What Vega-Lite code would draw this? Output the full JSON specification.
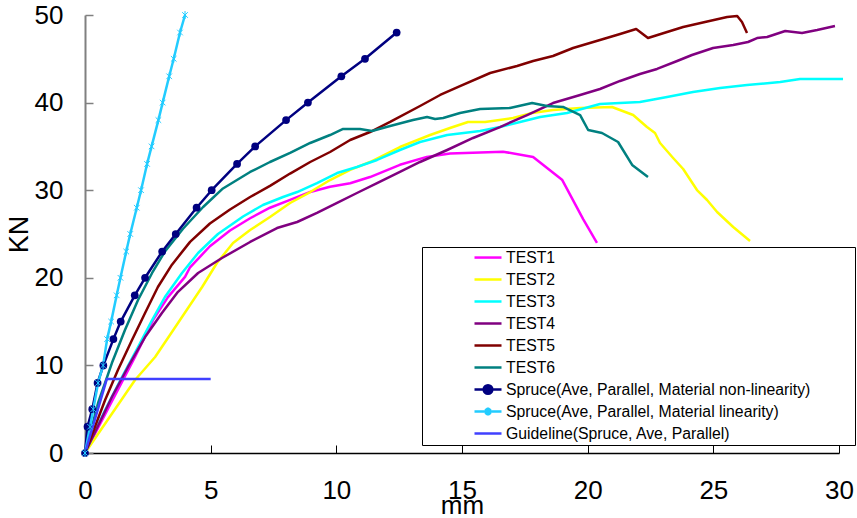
{
  "$schema": "https://vega.github.io/schema/vega-lite/v6.json",
  "autosize": "none",
  "padding": {"left": 85, "top": 15, "right": 18, "bottom": 65},
  "width": 754,
  "height": 438,
  "background": "white",
  "config": {
    "view": {"stroke": null},
    "font": "Liberation Sans",
    "axis": {"grid": false, "labelFlush": false, "labelOverlap": false, "labelFont": "Liberation Sans", "titleFont": "Liberation Sans", "labelColor": "black", "titleColor": "black", "titleFontWeight": "normal"}
  },
  "datasets": {
    "curves": [
      {"series": "TEST1", "x": 0, "y": 0},
      {"series": "TEST1", "x": 1.99, "y": 10.96},
      {"series": "TEST1", "x": 2.71, "y": 15.2},
      {"series": "TEST1", "x": 3.3, "y": 17.8},
      {"series": "TEST1", "x": 3.98, "y": 20.1},
      {"series": "TEST1", "x": 4.18, "y": 21.2},
      {"series": "TEST1", "x": 4.97, "y": 23.6},
      {"series": "TEST1", "x": 5.77, "y": 25.4},
      {"series": "TEST1", "x": 6.57, "y": 26.8},
      {"series": "TEST1", "x": 7.36, "y": 28.0},
      {"series": "TEST1", "x": 8.16, "y": 28.9},
      {"series": "TEST1", "x": 8.96, "y": 29.8},
      {"series": "TEST1", "x": 9.75, "y": 30.4},
      {"series": "TEST1", "x": 10.55, "y": 30.8},
      {"series": "TEST1", "x": 11.34, "y": 31.5},
      {"series": "TEST1", "x": 12.53, "y": 32.9},
      {"series": "TEST1", "x": 13.6, "y": 33.8},
      {"series": "TEST1", "x": 14.52, "y": 34.2},
      {"series": "TEST1", "x": 16.63, "y": 34.4},
      {"series": "TEST1", "x": 17.83, "y": 33.8},
      {"series": "TEST1", "x": 18.98, "y": 31.2},
      {"series": "TEST1", "x": 19.82, "y": 26.7},
      {"series": "TEST1", "x": 20.37, "y": 24.0},

      {"series": "TEST2", "x": 0, "y": 0},
      {"series": "TEST2", "x": 1.99, "y": 8.33},
      {"series": "TEST2", "x": 2.79, "y": 10.96},
      {"series": "TEST2", "x": 3.7, "y": 14.84},
      {"series": "TEST2", "x": 4.66, "y": 18.95},
      {"series": "TEST2", "x": 5.25, "y": 21.69},
      {"series": "TEST2", "x": 5.89, "y": 23.97},
      {"series": "TEST2", "x": 6.57, "y": 25.46},
      {"series": "TEST2", "x": 7.36, "y": 26.94},
      {"series": "TEST2", "x": 8.16, "y": 28.54},
      {"series": "TEST2", "x": 8.96, "y": 29.79},
      {"series": "TEST2", "x": 9.75, "y": 31.16},
      {"series": "TEST2", "x": 10.55, "y": 32.31},
      {"series": "TEST2", "x": 11.34, "y": 33.22},
      {"series": "TEST2", "x": 12.53, "y": 34.93},
      {"series": "TEST2", "x": 13.73, "y": 36.3},
      {"series": "TEST2", "x": 14.52, "y": 37.1},
      {"series": "TEST2", "x": 15.24, "y": 37.79},
      {"series": "TEST2", "x": 15.92, "y": 37.79},
      {"series": "TEST2", "x": 17.03, "y": 38.24},
      {"series": "TEST2", "x": 17.79, "y": 38.81},
      {"series": "TEST2", "x": 18.62, "y": 39.16},
      {"series": "TEST2", "x": 19.7, "y": 39.38},
      {"series": "TEST2", "x": 20.97, "y": 39.5},
      {"series": "TEST2", "x": 21.81, "y": 38.58},
      {"series": "TEST2", "x": 22.36, "y": 37.21},
      {"series": "TEST2", "x": 22.68, "y": 36.53},
      {"series": "TEST2", "x": 22.88, "y": 35.39},
      {"series": "TEST2", "x": 23.4, "y": 33.68},
      {"series": "TEST2", "x": 23.8, "y": 32.42},
      {"series": "TEST2", "x": 24.35, "y": 30.02},
      {"series": "TEST2", "x": 24.75, "y": 28.88},
      {"series": "TEST2", "x": 25.15, "y": 27.51},
      {"series": "TEST2", "x": 25.79, "y": 25.8},
      {"series": "TEST2", "x": 26.46, "y": 24.2},

      {"series": "TEST3", "x": 0, "y": 0},
      {"series": "TEST3", "x": 0.8, "y": 4.91},
      {"series": "TEST3", "x": 1.47, "y": 8.68},
      {"series": "TEST3", "x": 2.11, "y": 12.1},
      {"series": "TEST3", "x": 2.67, "y": 15.18},
      {"series": "TEST3", "x": 3.18, "y": 17.81},
      {"series": "TEST3", "x": 3.86, "y": 20.55},
      {"series": "TEST3", "x": 4.5, "y": 22.83},
      {"series": "TEST3", "x": 5.29, "y": 25.0},
      {"series": "TEST3", "x": 6.29, "y": 27.0},
      {"series": "TEST3", "x": 7.08, "y": 28.31},
      {"series": "TEST3", "x": 7.88, "y": 29.22},
      {"series": "TEST3", "x": 8.44, "y": 29.79},
      {"series": "TEST3", "x": 9.23, "y": 30.82},
      {"series": "TEST3", "x": 10.03, "y": 31.96},
      {"series": "TEST3", "x": 10.82, "y": 32.65},
      {"series": "TEST3", "x": 11.62, "y": 33.45},
      {"series": "TEST3", "x": 12.53, "y": 34.59},
      {"series": "TEST3", "x": 13.33, "y": 35.5},
      {"series": "TEST3", "x": 14.41, "y": 36.3},
      {"series": "TEST3", "x": 15.72, "y": 36.76},
      {"series": "TEST3", "x": 16.51, "y": 37.21},
      {"series": "TEST3", "x": 17.31, "y": 37.79},
      {"series": "TEST3", "x": 18.11, "y": 38.36},
      {"series": "TEST3", "x": 19.18, "y": 38.81},
      {"series": "TEST3", "x": 20.49, "y": 39.84},
      {"series": "TEST3", "x": 22.08, "y": 40.07},
      {"series": "TEST3", "x": 23.16, "y": 40.64},
      {"series": "TEST3", "x": 24.19, "y": 41.21},
      {"series": "TEST3", "x": 25.27, "y": 41.67},
      {"series": "TEST3", "x": 26.34, "y": 42.01},
      {"series": "TEST3", "x": 27.66, "y": 42.35},
      {"series": "TEST3", "x": 28.45, "y": 42.69},
      {"series": "TEST3", "x": 30.16, "y": 42.69},

      {"series": "TEST4", "x": 0, "y": 0},
      {"series": "TEST4", "x": 1.07, "y": 6.39},
      {"series": "TEST4", "x": 1.71, "y": 9.82},
      {"series": "TEST4", "x": 2.39, "y": 13.24},
      {"series": "TEST4", "x": 3.06, "y": 15.98},
      {"series": "TEST4", "x": 3.7, "y": 18.4},
      {"series": "TEST4", "x": 4.5, "y": 20.55},
      {"series": "TEST4", "x": 5.45, "y": 22.26},
      {"series": "TEST4", "x": 6.57, "y": 24.09},
      {"series": "TEST4", "x": 7.64, "y": 25.68},
      {"series": "TEST4", "x": 8.44, "y": 26.37},
      {"series": "TEST4", "x": 9.23, "y": 27.4},
      {"series": "TEST4", "x": 10.03, "y": 28.54},
      {"series": "TEST4", "x": 10.82, "y": 29.68},
      {"series": "TEST4", "x": 11.62, "y": 30.82},
      {"series": "TEST4", "x": 12.53, "y": 32.08},
      {"series": "TEST4", "x": 13.33, "y": 33.22},
      {"series": "TEST4", "x": 14.41, "y": 34.59},
      {"series": "TEST4", "x": 15.44, "y": 35.96},
      {"series": "TEST4", "x": 16.51, "y": 37.21},
      {"series": "TEST4", "x": 17.59, "y": 38.58},
      {"series": "TEST4", "x": 18.62, "y": 39.95},
      {"series": "TEST4", "x": 19.7, "y": 40.87},
      {"series": "TEST4", "x": 20.49, "y": 41.55},
      {"series": "TEST4", "x": 21.29, "y": 42.47},
      {"series": "TEST4", "x": 22.08, "y": 43.26},
      {"series": "TEST4", "x": 22.76, "y": 43.84},
      {"series": "TEST4", "x": 23.56, "y": 44.75},
      {"series": "TEST4", "x": 24.15, "y": 45.43},
      {"series": "TEST4", "x": 24.99, "y": 46.23},
      {"series": "TEST4", "x": 25.79, "y": 46.58},
      {"series": "TEST4", "x": 26.38, "y": 46.92},
      {"series": "TEST4", "x": 26.74, "y": 47.37},
      {"series": "TEST4", "x": 27.14, "y": 47.49},
      {"series": "TEST4", "x": 27.86, "y": 48.17},
      {"series": "TEST4", "x": 28.53, "y": 47.95},
      {"series": "TEST4", "x": 29.13, "y": 48.29},
      {"series": "TEST4", "x": 29.84, "y": 48.74},

      {"series": "TEST5", "x": 0, "y": 0},
      {"series": "TEST5", "x": 0.8, "y": 6.05},
      {"series": "TEST5", "x": 1.31, "y": 9.47},
      {"series": "TEST5", "x": 1.87, "y": 12.9},
      {"series": "TEST5", "x": 2.39, "y": 15.98},
      {"series": "TEST5", "x": 2.9, "y": 18.95},
      {"series": "TEST5", "x": 3.46, "y": 21.5},
      {"series": "TEST5", "x": 4.18, "y": 24.1},
      {"series": "TEST5", "x": 4.97, "y": 26.2},
      {"series": "TEST5", "x": 5.77, "y": 27.8},
      {"series": "TEST5", "x": 6.57, "y": 29.22},
      {"series": "TEST5", "x": 7.36, "y": 30.5},
      {"series": "TEST5", "x": 8.16, "y": 31.9},
      {"series": "TEST5", "x": 8.96, "y": 33.22},
      {"series": "TEST5", "x": 9.75, "y": 34.36},
      {"series": "TEST5", "x": 10.55, "y": 35.73},
      {"series": "TEST5", "x": 11.34, "y": 36.64},
      {"series": "TEST5", "x": 12.14, "y": 37.79},
      {"series": "TEST5", "x": 13.33, "y": 39.61},
      {"series": "TEST5", "x": 14.13, "y": 40.87},
      {"series": "TEST5", "x": 14.92, "y": 41.89},
      {"series": "TEST5", "x": 16.12, "y": 43.38},
      {"series": "TEST5", "x": 17.19, "y": 44.18},
      {"series": "TEST5", "x": 17.83, "y": 44.75},
      {"series": "TEST5", "x": 18.62, "y": 45.32},
      {"series": "TEST5", "x": 19.42, "y": 46.23},
      {"series": "TEST5", "x": 20.49, "y": 47.15},
      {"series": "TEST5", "x": 21.29, "y": 47.83},
      {"series": "TEST5", "x": 21.93, "y": 48.4},
      {"series": "TEST5", "x": 22.4, "y": 47.37},
      {"series": "TEST5", "x": 23.16, "y": 48.06},
      {"series": "TEST5", "x": 23.8, "y": 48.63},
      {"series": "TEST5", "x": 24.67, "y": 49.2},
      {"series": "TEST5", "x": 25.55, "y": 49.77},
      {"series": "TEST5", "x": 25.95, "y": 49.89},
      {"series": "TEST5", "x": 26.14, "y": 49.2},
      {"series": "TEST5", "x": 26.34, "y": 47.95},

      {"series": "TEST6", "x": 0, "y": 0},
      {"series": "TEST6", "x": 0.52, "y": 5.71},
      {"series": "TEST6", "x": 1.07, "y": 10.27},
      {"series": "TEST6", "x": 1.59, "y": 14.04},
      {"series": "TEST6", "x": 2.11, "y": 17.47},
      {"series": "TEST6", "x": 2.67, "y": 20.55},
      {"series": "TEST6", "x": 3.18, "y": 23.0},
      {"series": "TEST6", "x": 3.9, "y": 25.6},
      {"series": "TEST6", "x": 4.7, "y": 28.08},
      {"series": "TEST6", "x": 5.49, "y": 30.2},
      {"series": "TEST6", "x": 6.57, "y": 32.08},
      {"series": "TEST6", "x": 7.36, "y": 33.22},
      {"series": "TEST6", "x": 8.16, "y": 34.25},
      {"series": "TEST6", "x": 8.96, "y": 35.39},
      {"series": "TEST6", "x": 9.75, "y": 36.3},
      {"series": "TEST6", "x": 10.27, "y": 36.99},
      {"series": "TEST6", "x": 10.94, "y": 36.99},
      {"series": "TEST6", "x": 11.42, "y": 36.76},
      {"series": "TEST6", "x": 12.14, "y": 37.33},
      {"series": "TEST6", "x": 13.05, "y": 38.01},
      {"series": "TEST6", "x": 13.61, "y": 38.36},
      {"series": "TEST6", "x": 13.93, "y": 38.13},
      {"series": "TEST6", "x": 14.25, "y": 38.24},
      {"series": "TEST6", "x": 14.92, "y": 38.81},
      {"series": "TEST6", "x": 15.72, "y": 39.27},
      {"series": "TEST6", "x": 16.91, "y": 39.38},
      {"series": "TEST6", "x": 17.79, "y": 39.95},
      {"series": "TEST6", "x": 18.38, "y": 39.61},
      {"series": "TEST6", "x": 19.02, "y": 39.5},
      {"series": "TEST6", "x": 19.7, "y": 38.58},
      {"series": "TEST6", "x": 20.02, "y": 36.87},
      {"series": "TEST6", "x": 20.57, "y": 36.53},
      {"series": "TEST6", "x": 21.21, "y": 35.5},
      {"series": "TEST6", "x": 21.77, "y": 32.88},
      {"series": "TEST6", "x": 22.4, "y": 31.51},

      {"series": "Spruce(Ave, Parallel, Material non-linearity)", "x": 0, "y": 0},
      {"series": "Spruce(Ave, Parallel, Material non-linearity)", "x": 0.1, "y": 3},
      {"series": "Spruce(Ave, Parallel, Material non-linearity)", "x": 0.29, "y": 5},
      {"series": "Spruce(Ave, Parallel, Material non-linearity)", "x": 0.5, "y": 8},
      {"series": "Spruce(Ave, Parallel, Material non-linearity)", "x": 0.73, "y": 10},
      {"series": "Spruce(Ave, Parallel, Material non-linearity)", "x": 1.13, "y": 13},
      {"series": "Spruce(Ave, Parallel, Material non-linearity)", "x": 1.42, "y": 15},
      {"series": "Spruce(Ave, Parallel, Material non-linearity)", "x": 1.98, "y": 18},
      {"series": "Spruce(Ave, Parallel, Material non-linearity)", "x": 2.39, "y": 20},
      {"series": "Spruce(Ave, Parallel, Material non-linearity)", "x": 3.07, "y": 23},
      {"series": "Spruce(Ave, Parallel, Material non-linearity)", "x": 3.61, "y": 25},
      {"series": "Spruce(Ave, Parallel, Material non-linearity)", "x": 4.44, "y": 28},
      {"series": "Spruce(Ave, Parallel, Material non-linearity)", "x": 5.04, "y": 30},
      {"series": "Spruce(Ave, Parallel, Material non-linearity)", "x": 6.05, "y": 33},
      {"series": "Spruce(Ave, Parallel, Material non-linearity)", "x": 6.77, "y": 35},
      {"series": "Spruce(Ave, Parallel, Material non-linearity)", "x": 8.0, "y": 38},
      {"series": "Spruce(Ave, Parallel, Material non-linearity)", "x": 8.87, "y": 40},
      {"series": "Spruce(Ave, Parallel, Material non-linearity)", "x": 10.2, "y": 43},
      {"series": "Spruce(Ave, Parallel, Material non-linearity)", "x": 11.14, "y": 45},
      {"series": "Spruce(Ave, Parallel, Material non-linearity)", "x": 12.4, "y": 48},

      {"series": "Spruce(Ave, Parallel, Material linearity)", "x": 0, "y": 0},
      {"series": "Spruce(Ave, Parallel, Material linearity)", "x": 0.2, "y": 3},
      {"series": "Spruce(Ave, Parallel, Material linearity)", "x": 0.33, "y": 5},
      {"series": "Spruce(Ave, Parallel, Material linearity)", "x": 0.52, "y": 8},
      {"series": "Spruce(Ave, Parallel, Material linearity)", "x": 0.72, "y": 10},
      {"series": "Spruce(Ave, Parallel, Material linearity)", "x": 0.88, "y": 13},
      {"series": "Spruce(Ave, Parallel, Material linearity)", "x": 1.04, "y": 15},
      {"series": "Spruce(Ave, Parallel, Material linearity)", "x": 1.26, "y": 18},
      {"series": "Spruce(Ave, Parallel, Material linearity)", "x": 1.41, "y": 20},
      {"series": "Spruce(Ave, Parallel, Material linearity)", "x": 1.64, "y": 23},
      {"series": "Spruce(Ave, Parallel, Material linearity)", "x": 1.8, "y": 25},
      {"series": "Spruce(Ave, Parallel, Material linearity)", "x": 2.06, "y": 28},
      {"series": "Spruce(Ave, Parallel, Material linearity)", "x": 2.23, "y": 30},
      {"series": "Spruce(Ave, Parallel, Material linearity)", "x": 2.47, "y": 33},
      {"series": "Spruce(Ave, Parallel, Material linearity)", "x": 2.65, "y": 35},
      {"series": "Spruce(Ave, Parallel, Material linearity)", "x": 2.92, "y": 38},
      {"series": "Spruce(Ave, Parallel, Material linearity)", "x": 3.09, "y": 40},
      {"series": "Spruce(Ave, Parallel, Material linearity)", "x": 3.35, "y": 43},
      {"series": "Spruce(Ave, Parallel, Material linearity)", "x": 3.53, "y": 45},
      {"series": "Spruce(Ave, Parallel, Material linearity)", "x": 3.78, "y": 48},
      {"series": "Spruce(Ave, Parallel, Material linearity)", "x": 3.98, "y": 50},

      {"series": "Guideline(Spruce, Ave, Parallel)", "x": 0, "y": 0},
      {"series": "Guideline(Spruce, Ave, Parallel)", "x": 0.87, "y": 8.45},
      {"series": "Guideline(Spruce, Ave, Parallel)", "x": 5.0, "y": 8.45}
    ]
  },
  "data": {"name": "curves"},
  "layer": [
    {
      "mark": {"type": "line", "strokeJoin": "round", "strokeCap": "butt"},
      "encoding": {
        "x": {"field": "x", "type": "quantitative", "scale": {"domain": [0, 30], "nice": false, "zero": false},
          "axis": {"title": "mm", "values": [0, 5, 10, 15, 20, 25, 30], "domainColor": "black", "domainWidth": 1.5, "tickColor": "black", "tickSize": -8, "tickWidth": 1, "labelPadding": 32, "labelFontSize": 26, "titleFontSize": 26, "titleX": 377, "titleY": 39, "titleBaseline": "top"}},
        "y": {"field": "y", "type": "quantitative", "scale": {"domain": [0, 50], "nice": false},
          "axis": {"title": "KN", "values": [0, 10, 20, 30, 40, 50], "domainColor": "#808080", "domainWidth": 2, "tickColor": "#808080", "tickSize": -8, "tickWidth": 1.5, "labelPadding": 30, "labelFontSize": 26, "titleFontSize": 27, "titleX": -66, "titleY": 219, "titleAngle": -90, "titleBaseline": "middle", "titleAlign": "center"}},
        "color": {"field": "series", "type": "nominal",
          "scale": {"domain": ["TEST1", "TEST2", "TEST3", "TEST4", "TEST5", "TEST6", "Spruce(Ave, Parallel, Material non-linearity)", "Spruce(Ave, Parallel, Material linearity)", "Guideline(Spruce, Ave, Parallel)"],
            "range": ["#FF00FF", "#FFFF00", "#00FFFF", "#800080", "#800000", "#008080", "#000080", "#22CCFF", "#4040FF"]},
          "sort": ["TEST1", "TEST2", "TEST3", "TEST4", "TEST5", "TEST6", "Spruce(Ave, Parallel, Material non-linearity)", "Spruce(Ave, Parallel, Material linearity)", "Guideline(Spruce, Ave, Parallel)"],
          "legend": {
            "title": " ", "titleOrient": "right", "titlePadding": 44, "titleFontSize": 4,
            "orient": "none", "legendX": 337, "legendY": 232,
            "strokeColor": "black", "fillColor": "white", "padding": 1,
            "symbolOffset": 50, "labelOffset": 3,
            "symbolSize": 729, "clipHeight": 19.1, "rowPadding": 2,
            "labelFont": "Liberation Sans", "labelFontSize": 15.8, "labelColor": "black", "labelLimit": 400,
            "encode": {"symbols": {"update": {
              "shape": {"signal": "datum.value === 'Spruce(Ave, Parallel, Material non-linearity)' ? 'M-1,0H1M-0.32,0A0.32,0.32 0 1 1 0.32,0A0.32,0.32 0 1 1 -0.32,0Z' : datum.value === 'Spruce(Ave, Parallel, Material linearity)' ? 'M-1,0H1M-0.2,-0.2L0.2,0.2M-0.2,0.2L0.2,-0.2M0,-0.3V0.3' : 'M-1,0H1'"},
              "fill": {"signal": "datum.value === 'Spruce(Ave, Parallel, Material non-linearity)' ? '#000080' : 'transparent'"},
              "strokeWidth": {"signal": "indexof(datum.value, 'TEST') === 0 ? 2.5 : datum.value === 'Guideline(Spruce, Ave, Parallel)' ? 1.2 : datum.value === 'Spruce(Ave, Parallel, Material linearity)' ? 1.2 : 2"}
            }}}
          }},
        "strokeWidth": {"field": "series", "type": "nominal",
          "scale": {"domain": ["TEST1", "TEST2", "TEST3", "TEST4", "TEST5", "TEST6", "Spruce(Ave, Parallel, Material non-linearity)", "Spruce(Ave, Parallel, Material linearity)", "Guideline(Spruce, Ave, Parallel)"],
            "range": [2.5, 2.5, 2.5, 2.5, 2.5, 2.5, 2, 1, 1]},
          "legend": null}
      }
    },
    {
      "transform": [{"filter": "datum.series === 'Spruce(Ave, Parallel, Material non-linearity)'"}],
      "mark": {"type": "point", "shape": "circle", "filled": true, "color": "#000080", "size": 60, "opacity": 1},
      "encoding": {
        "x": {"field": "x", "type": "quantitative"},
        "y": {"field": "y", "type": "quantitative"}
      }
    },
    {
      "transform": [{"filter": "datum.series === 'Spruce(Ave, Parallel, Material linearity)'"}],
      "mark": {"type": "point", "shape": "M-0.7,-0.7L0.7,0.7M-0.7,0.7L0.7,-0.7M0,-1V1", "filled": false, "stroke": "#22CCFF", "strokeWidth": 1, "size": 64, "opacity": 1},
      "encoding": {
        "x": {"field": "x", "type": "quantitative"},
        "y": {"field": "y", "type": "quantitative"}
      }
    }
  ]
}
